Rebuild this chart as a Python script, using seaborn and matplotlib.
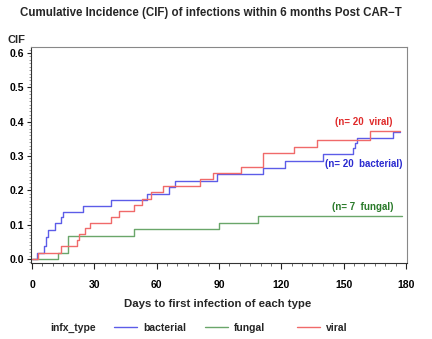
import numpy as np
import pandas as pd
import matplotlib
matplotlib.use("Agg")
import matplotlib.pyplot as plt
from matplotlib.ticker import MultipleLocator
from matplotlib.lines import Line2D
import seaborn as sns

# ---- data (step-function CIF curves) ----
bacterial_days = [0, 2.4, 5.6, 6.7, 7.5, 11.2, 13.9, 14.9, 24.3, 37.9, 55.2, 65.9,
                  68.6, 89.1, 111.0, 121.9, 140.0, 154.7, 155.5, 156.5, 173.6, 177.0]
bacterial_cif = [0, 0.0185, 0.037, 0.065, 0.085, 0.104, 0.121, 0.137, 0.154, 0.172, 0.190,
                 0.209, 0.227, 0.247, 0.266, 0.286, 0.305, 0.323, 0.338, 0.352, 0.370, 0.370]

fungal_days = [0, 12.3, 17.5, 49.1, 89.9, 108.8, 178.0]
fungal_cif = [0, 0.0185, 0.068, 0.087, 0.106, 0.125, 0.125]

viral_days = [0, 2.7, 13.9, 21.8, 22.6, 25.4, 28.0, 37.9, 41.9, 49.1, 53.1, 57.3, 63.1,
              81.0, 87.0, 100.8, 111.0, 126.0, 137.0, 162.7, 177.0]
viral_cif = [0, 0.0185, 0.037, 0.055, 0.072, 0.089, 0.106, 0.123, 0.141, 0.158, 0.176,
             0.195, 0.213, 0.232, 0.250, 0.269, 0.308, 0.327, 0.348, 0.372, 0.372]

types = ["bacterial", "fungal", "viral"]
counts = [20, 7, 20]
x_ticks = [0, 30, 60, 90, 120, 150, 180]
y_ticks = [0.0, 0.1, 0.2, 0.3, 0.4, 0.5, 0.6]

df = pd.concat([
    pd.DataFrame({"day": bacterial_days, "cif": bacterial_cif, "infx_type": "bacterial"}),
    pd.DataFrame({"day": fungal_days, "cif": fungal_cif, "infx_type": "fungal"}),
    pd.DataFrame({"day": viral_days, "cif": viral_cif, "infx_type": "viral"}),
], ignore_index=True)

sns.set_style("ticks")
plt.rcParams["font.family"] = ["Liberation Sans", "DejaVu Sans"]
plt.rcParams["font.weight"] = "bold"

line_colors = {"bacterial": "#5c5ce8", "fungal": "#6aa66a", "viral": "#f06a6a"}
text_colors = {"bacterial": "#2a2ad0", "fungal": "#2a7a2a", "viral": "#e02a2a"}

W, H = 432, 339
fig = plt.figure(figsize=(W / 100, H / 100), dpi=100)
ax = fig.add_axes([31 / W, 1 - 263 / H, 376 / W, 216 / H])

sns.lineplot(data=df, x="day", y="cif", hue="infx_type", palette=line_colors,
             hue_order=types, estimator=None, drawstyle="steps-post",
             linewidth=1.0, legend=False, ax=ax)

ax.set_xlim(-0.5, 180.5)
ax.set_ylim(-0.0117, 0.6175)
ax.set_xticks(x_ticks)
ax.set_xticklabels([str(t) for t in x_ticks])
ax.set_yticks(y_ticks)
ax.set_yticklabels([f"{t:.1f}" for t in y_ticks])
ax.xaxis.set_minor_locator(MultipleLocator(5))
ax.yaxis.set_minor_locator(MultipleLocator(0.01))
ax.tick_params(axis="x", which="major", length=4, width=0.8, pad=8, labelsize=7.5, colors="#222222")
ax.tick_params(axis="x", which="minor", length=2.5, width=0.6, color="#555555")
ax.tick_params(axis="y", which="major", length=3, width=0.8, pad=2, labelsize=7.5, colors="#222222")
ax.tick_params(axis="y", which="minor", length=1.5, width=0.5, color="#777777")
for lab in ax.get_xticklabels() + ax.get_yticklabels():
    lab.set_fontweight("bold")
    lab.set_color("black")

for side in ["left", "bottom"]:
    ax.spines[side].set_color("#333333")
    ax.spines[side].set_linewidth(0.8)
for side in ["top", "right"]:
    ax.spines[side].set_color("#888888")
    ax.spines[side].set_linewidth(0.8)

ax.set_xlabel("")
ax.set_ylabel("")

# annotations
ann = {"viral": (173.3, 0.400), "bacterial": (178.1, 0.276), "fungal": (173.9, 0.150)}
for t, n in zip(types, counts):
    x, y = ann[t]
    ax.text(x, y, f"(n= {n}  {t})", color=text_colors[t], fontsize=7, fontweight="bold",
            ha="right", va="center")

# titles / labels
fig.text(211 / W, 1 - 13 / H, "Cumulative Incidence (CIF) of infections within 6 months Post CAR\u2212T",
         ha="center", va="center", fontsize=8.3, fontweight="bold")
fig.text(7 / W, 1 - 40 / H, "CIF", ha="left", va="center", fontsize=8, fontweight="bold")
fig.text(218 / W, 1 - 304 / H, "Days to first infection of each type",
         ha="center", va="center", fontsize=8.2, fontweight="bold")

# legend row
fig.text(50 / W, 1 - 328 / H, "infx_type", ha="left", va="center", fontsize=7.5, fontweight="bold")
leg_x = {"bacterial": 114, "fungal": 205, "viral": 297}
for t in types:
    h = Line2D([], [], color=line_colors[t], linewidth=1.0)
    lg = fig.legend([h], [t], loc="center left", bbox_to_anchor=(leg_x[t] / W, 1 - 328 / H),
                    frameon=False, borderpad=0, borderaxespad=0, handlelength=2.2,
                    handletextpad=0.6, prop={"size": 7.5, "weight": "bold"})

fig.savefig("out.png", dpi=100)
